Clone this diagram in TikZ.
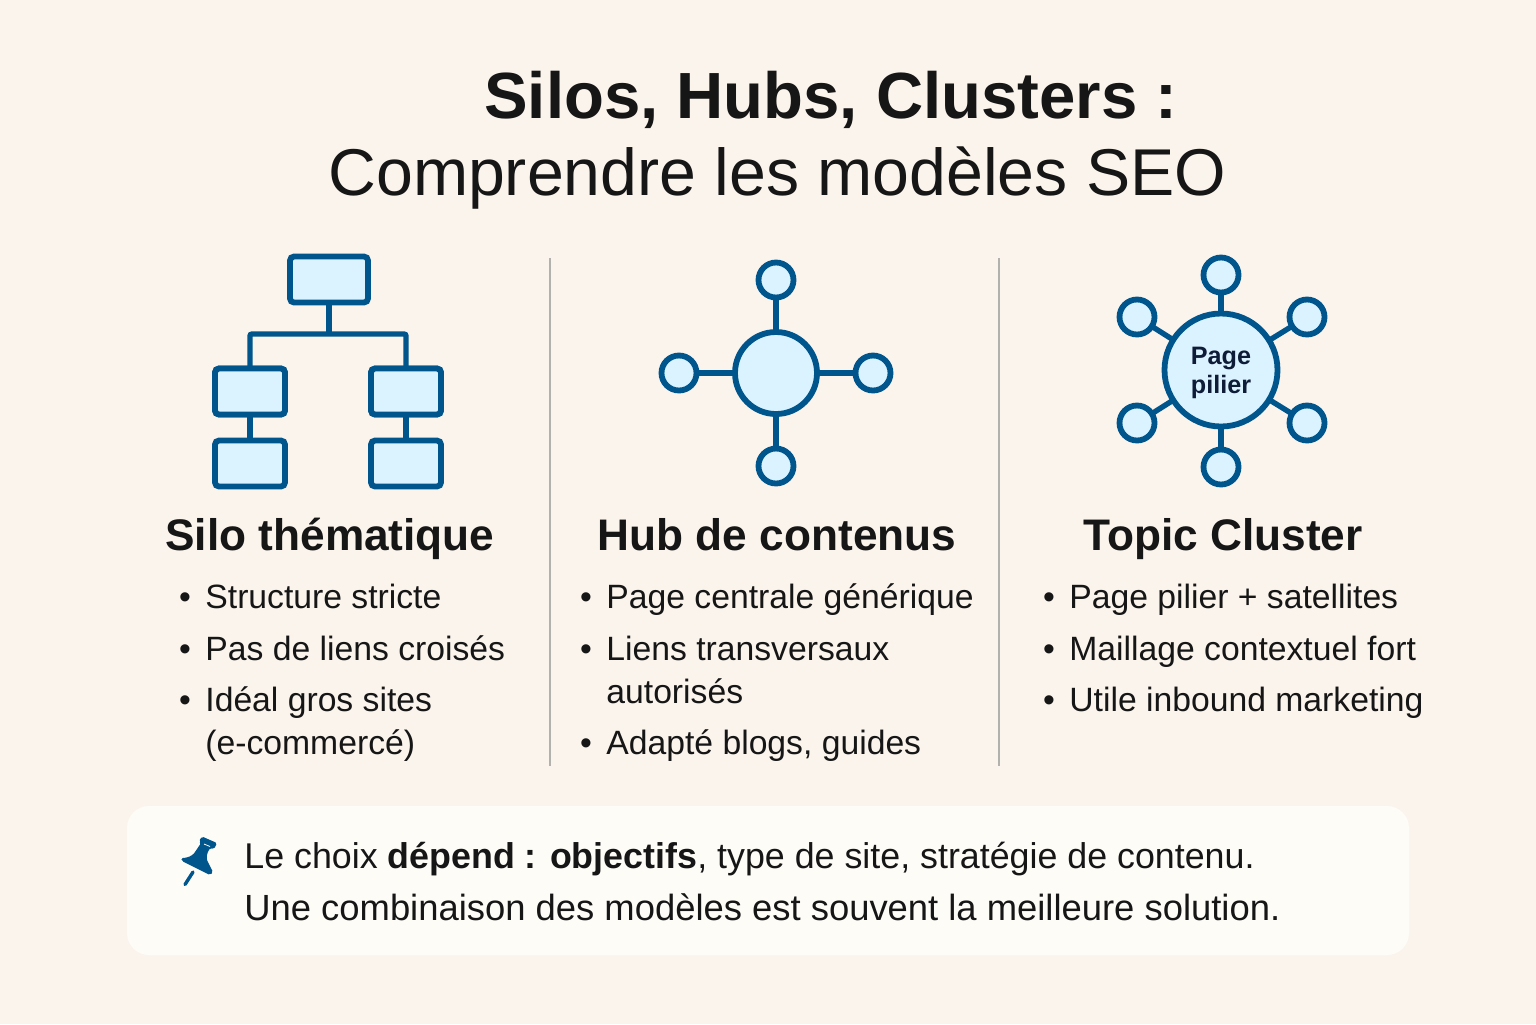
\documentclass[tikz,border=0pt]{standalone}
\usepackage{xcolor}
\usepackage{fontspec}
\setmainfont{Liberation Sans}
\definecolor{seoPage}{RGB}{251, 244, 237}
\definecolor{seoCard}{RGB}{254, 252, 247}
\definecolor{seoBlue}{RGB}{0, 85, 140}
\definecolor{seoFill}{RGB}{219, 243, 254}
\definecolor{seoText}{RGB}{22, 22, 22}
\definecolor{seoRule}{RGB}{178, 178, 172}
\definecolor{seoNavy}{RGB}{14, 28, 56}

\begin{document}
\begin{tikzpicture}[x=0.5pt, y=-0.5pt]
    \tikzstyle{silobox} = [rectangle, draw=seoBlue, fill=seoFill, line width=2.9pt, rounded corners=2pt, minimum width=35pt, minimum height=23pt, inner sep=0pt, outer sep=0pt]
    \tikzstyle{sat} = [circle, draw=seoBlue, fill=seoFill, line width=2.9pt, minimum size=17.5pt, inner sep=0pt, outer sep=0pt]
    \tikzstyle{core} = [circle, draw=seoBlue, fill=seoFill, line width=2.9pt, inner sep=0pt, outer sep=0pt]
    \tikzstyle{link} = [draw=seoBlue, line width=2.7pt]
    \tikzstyle{rule} = [draw=seoRule, line width=0.7pt]
    \tikzstyle{heading} = [anchor=base, text=seoText, font=\fontsize{22.1}{24}\selectfont\bfseries, inner sep=0pt]
    \tikzstyle{item} = [anchor=base west, text=seoText, font=\fontsize{16.85}{20}\selectfont, inner sep=0pt]
    \tikzstyle{dot} = [anchor=base, text=seoText, font=\fontsize{16.85}{20}\selectfont, inner sep=0pt]
    \tikzstyle{note} = [anchor=base west, text=seoText, font=\fontsize{18.2}{22}\selectfont, inner sep=0pt]
    \tikzstyle{pagetag} = [anchor=base, text=seoNavy, font=\fontsize{12.6}{14}\selectfont\bfseries, inner sep=0pt]

    \fill[seoPage] (0, 0) rectangle (1536, 1024);
    \node[rectangle, fill=seoCard, rounded corners=11pt, minimum width=641pt, minimum height=74.5pt, inner sep=0pt] (card) at (768, 880.5) {};

    % title
    \node[anchor=base west, text=seoText, font=\fontsize{32.65}{38}\selectfont\bfseries, inner sep=0pt] (title) at (484, 118) {Silos, Hubs, Clusters :};
    \node[anchor=base west, text=seoText, font=\fontsize{33.1}{38}\selectfont, inner sep=0pt] (subtitle) at (328, 195) {Comprendre les modèles SEO};

    % dividers
    \coordinate (ruleAtop) at (550, 258);
    \coordinate (ruleAbot) at (550, 766);
    \coordinate (ruleBtop) at (999, 258);
    \coordinate (ruleBbot) at (999, 766);
    \draw[rule] (ruleAtop) -- (ruleAbot);
    \draw[rule] (ruleBtop) -- (ruleBbot);

    % silo
    \coordinate (bus) at (329, 334);
    \coordinate (busL) at (250, 334);
    \coordinate (busR) at (406, 334);
    \node[silobox, minimum width=39pt] (root) at (329, 279.5) {};
    \node[silobox] (siloL) at (250, 391.5) {};
    \node[silobox] (siloR) at (406, 391.5) {};
    \node[silobox] (leafL) at (250, 463.5) {};
    \node[silobox] (leafR) at (406, 463.5) {};
    \draw[link, rounded corners=1pt] (siloL) -- (busL) -- (busR) -- (siloR);
    \node[silobox] at (250, 391.5) {};
    \node[silobox] at (406, 391.5) {};
    \draw[link] (root) -- (bus);
    \draw[link] (siloL) -- (leafL);
    \draw[link] (siloR) -- (leafR);

    % hub
    \node[core, minimum size=41pt] (hub) at (776, 373) {};
    \node[sat] (hubN) at (776, 280) {};
    \node[sat] (hubS) at (776, 466) {};
    \node[sat] (hubW) at (679, 373) {};
    \node[sat] (hubE) at (873, 373) {};
    \draw[link] (hub) -- (hubN);
    \draw[link] (hub) -- (hubS);
    \draw[link] (hub) -- (hubW);
    \draw[link] (hub) -- (hubE);

    % cluster
    \node[core, minimum size=56.5pt] (pillar) at (1221, 370) {};
    \node[pagetag] (pageA) at (1221, 364) {Page};
    \node[pagetag] (pageB) at (1221, 393) {pilier};
    \node[sat] (clN) at (1221, 275) {};
    \node[sat] (clS) at (1221, 467) {};
    \node[sat] (clNW) at (1137, 317) {};
    \node[sat] (clNE) at (1307, 317) {};
    \node[sat] (clSW) at (1137, 423) {};
    \node[sat] (clSE) at (1307, 423) {};
    \draw[link] (pillar) -- (clN);
    \draw[link] (pillar) -- (clS);
    \draw[link] (pillar) -- (clNW);
    \draw[link] (pillar) -- (clNE);
    \draw[link] (pillar) -- (clSW);
    \draw[link] (pillar) -- (clSE);

    % headings
    \node[heading] (headSilo) at (330, 550) {Silo thématique};
    \node[heading] (headHub) at (777, 550) {Hub de contenus};
    \node[heading] (headCluster) at (1223, 550) {Topic Cluster};

    % first column
    \node[dot] (dotA) at (185, 608) {•};
    \node[item] (itemA) at (205, 608) {Structure stricte};
    \node[dot] (dotB) at (185, 660) {•};
    \node[item] (itemB) at (205, 660) {Pas de liens croisés};
    \node[dot] (dotC) at (185, 711) {•};
    \node[item] (itemC) at (205, 711) {Idéal gros sites};
    \node[item] (itemCb) at (205, 754) {(e-commercé)};

    % second column
    \node[dot] (dotD) at (586, 608) {•};
    \node[item] (itemD) at (606, 608) {Page centrale générique};
    \node[dot] (dotE) at (586, 660) {•};
    \node[item] (itemE) at (606, 660) {Liens transversaux};
    \node[item] (itemEb) at (606, 703) {autorisés};
    \node[dot] (dotF) at (586, 754) {•};
    \node[item] (itemF) at (606, 754) {Adapté blogs, guides};

    % third column
    \node[dot] (dotG) at (1049, 608) {•};
    \node[item] (itemG) at (1069, 608) {Page pilier + satellites};
    \node[dot] (dotH) at (1049, 660) {•};
    \node[item] (itemH) at (1069, 660) {Maillage contextuel fort};
    \node[dot] (dotI) at (1049, 711) {•};
    \node[item] (itemI) at (1069, 711) {Utile inbound marketing};

    % note
    \fill[seoBlue, rounded corners=0.8pt] (202, 836.5) -- (217, 843) -- (214, 849) -- (210, 848) .. controls (207, 853) and (206, 858) .. (208, 862) -- (213, 872) -- (210, 875) -- (182, 861) -- (181, 858) .. controls (187, 858) and (192, 856) .. (195, 852) -- (201, 843) -- (199, 841) -- cycle;
    \draw[seoCard, line width=0.4pt] (204, 844) -- (210, 846.5);
    \draw[seoBlue, line width=1.7pt, line cap=round] (193, 872) -- (185, 884.5);
    \node[note, font=\fontsize{17.9}{22}\selectfont] (noteA) at (244, 868) {Le choix \textbf{dépend : objectifs}, type de site, stratégie de contenu.};
    \node[note] (noteB) at (244, 920) {Une combinaison des modèles est souvent la meilleure solution.};
\end{tikzpicture}
\end{document}
